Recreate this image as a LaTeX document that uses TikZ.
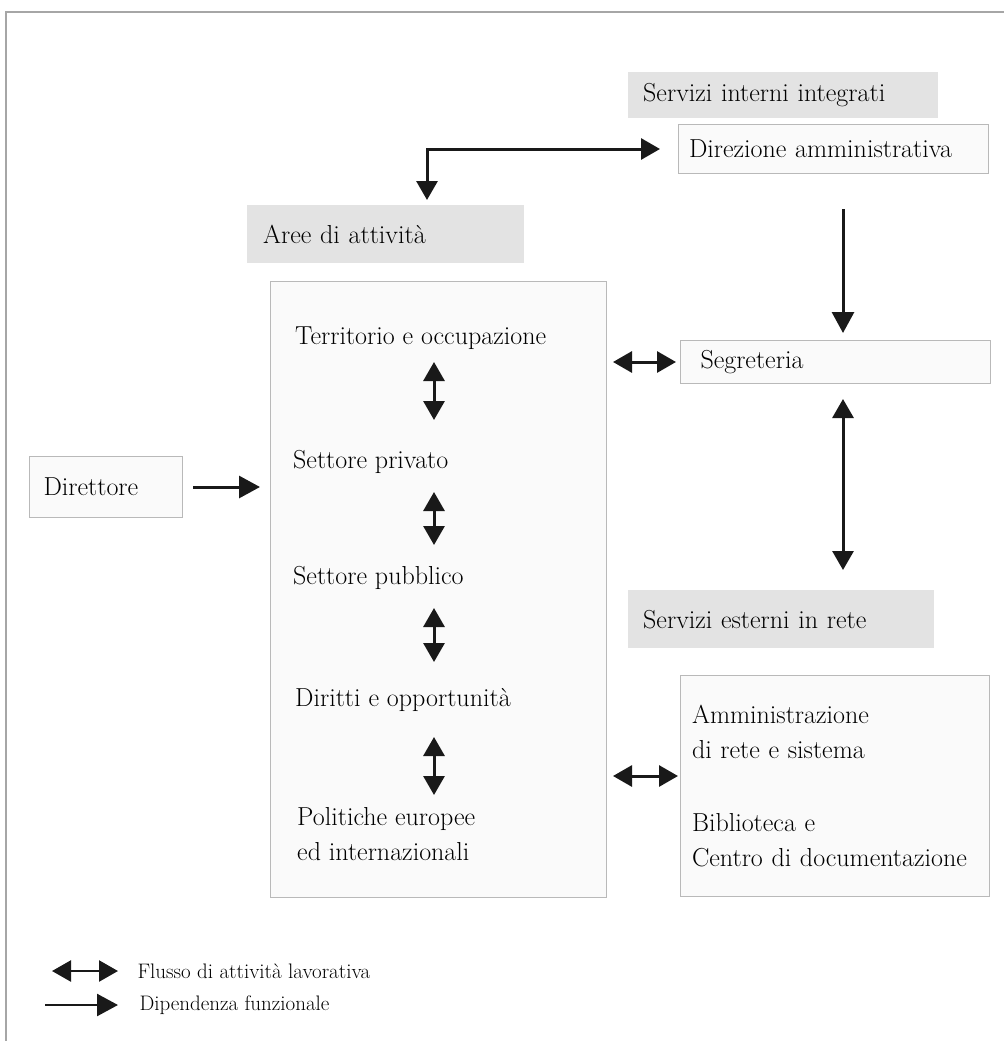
\documentclass[tikz,border=0pt]{standalone}
\usetikzlibrary{arrows.meta,calc}
\newcommand{\mainSize}{\fontsize{26}{35}\selectfont}
\newcommand{\legendSize}{\fontsize{21}{24}\selectfont}

\begin{document}
\begin{tikzpicture}[x=1pt,y=-1pt]
  \tikzset{
    area/.style={fill=gray!22, anchor=north west, align=left, font=\mainSize},
    unit/.style={draw=gray!55, line width=1pt, fill=gray!4, anchor=north west, align=left, font=\mainSize},
    item/.style={anchor=west, inner sep=0pt, align=left, font=\mainSize},
    flow/.style={{Triangle[length=19pt,width=21pt]}-{Triangle[length=19pt,width=21pt]}, line width=3pt, black!90},
    dep/.style={-{Triangle[length=21pt,width=22pt]}, line width=3pt, black!90},
  }
  \useasboundingbox (0,0) rectangle (1004,1041);
  \draw[gray!70, line width=1.5pt] (6,1041) -- (6,12) -- (1004,12);

  \node[area, minimum width=310pt, minimum height=46pt, text width=280pt, inner xsep=15pt] (servInt) at (628,72) {Servizi interni integrati};
  \node[unit, minimum width=310pt, minimum height=49pt, text width=289pt, inner xsep=10pt] (direz) at (678,124) {Direzione amministrativa};
  \node[area, minimum width=277pt, minimum height=58pt, text width=245pt, inner xsep=16pt] (aree) at (247,205) {Aree di attivit\`a};
  \node[unit, minimum width=336pt, minimum height=616pt] (big) at (270,281) {};
  \node[unit, minimum width=310pt, minimum height=43pt, text width=270pt, inner xsep=20pt] (segr) at (680,340) {Segreteria};
  \node[area, minimum width=306pt, minimum height=58pt, text width=276pt, inner xsep=15pt] (servEst) at (628,590) {Servizi esterni in rete};
  \node[unit, minimum width=309pt, minimum height=221pt, text width=286pt, inner xsep=11pt] (amm) at (680,675)
    {Amministrazione\\di rete e sistema\\[38pt]Biblioteca e\\Centro di documentazione};
  \node[unit, minimum width=153pt, minimum height=61pt, text width=125pt, inner xsep=14pt] (dirett) at (29,456) {Direttore};

  \node[item] (terr) at (295,338) {Territorio e occupazione};
  \node[item] (priv) at (293,462) {Settore privato};
  \node[item] (pubb) at (293,578) {Settore pubblico};
  \node[item] (dir) at (295,700) {Diritti e opportunit\`a};
  \node[item] (pol) at (297,834) {Politiche europee\\ed internazionali};

  \coordinate (axis) at (434,0);
  \coordinate (axisR) at (843,0);
  \coordinate (elb) at (427,148);

  \foreach \a/\b/\s/\e in {terr/priv/24/42, priv/pubb/30/33, pubb/dir/30/38, dir/pol/37/39}
    \draw[flow] ($(\a.center -| axis)+(0,\s)$) -- ($(\b.center -| axis)-(0,\e)$);

  \draw[flow] ([yshift=5pt]aree.north -| elb) |- ([xshift=-18pt]direz.west);
  \draw[dep] ([yshift=-35pt]direz.south -| axisR) -- ([yshift=7pt]segr.north -| axisR);
  \draw[flow] ([yshift=-15pt]segr.south -| axisR) -- ([yshift=20pt]servEst.north -| axisR);
  \draw[flow] ([xshift=6pt]big.east |- segr) -- ([xshift=-4pt]segr.west);
  \draw[flow] ([xshift=6pt]big.east |- amm.west) ++(0,-10) -- ([xshift=-2pt,yshift=10pt]amm.west);
  \draw[dep] ([xshift=10pt]dirett.east) -- ([xshift=-10pt]dirett.east -| big.west);

  \node[anchor=west, font=\legendSize] (leg1) at (134,971) {Flusso di attivit\`a lavorativa};
  \node[anchor=west, font=\legendSize] (leg2) at (136,1005) {Dipendenza funzionale};
  \draw[flow, line width=2.5pt] ([xshift=-82pt]leg1.west) -- ([xshift=-16pt]leg1.west);
  \draw[dep, line width=2.5pt] ([xshift=-91pt]leg2.west) -- ([xshift=-18pt]leg2.west);
\end{tikzpicture}
\end{document}
